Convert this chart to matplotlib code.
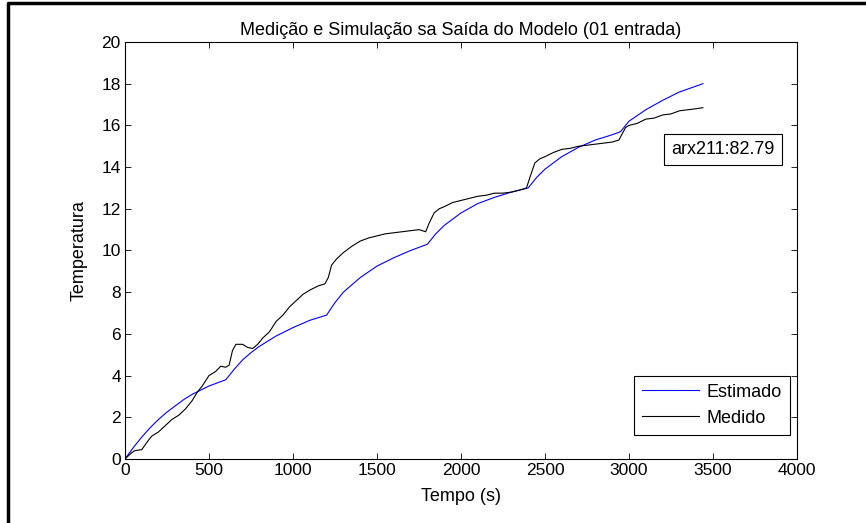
import matplotlib.pyplot as plt
from matplotlib.lines import Line2D

plt.rcParams['font.family'] = ['Liberation Sans', 'DejaVu Sans']

# modelo estimado (arx211)
t_est = [0, 50, 100, 150, 200, 250, 300, 350, 400, 450, 500, 550, 600,
         650, 700, 750, 800, 900, 1000, 1100, 1200,
         1250, 1300, 1400, 1500, 1600, 1700, 1800,
         1850, 1900, 2000, 2100, 2200, 2300, 2400,
         2450, 2500, 2600, 2700, 2800, 2900, 2950,
         3000, 3100, 3200, 3300, 3440]
y_est = [0, 0.55, 1.05, 1.5, 1.9, 2.25, 2.55, 2.85, 3.1, 3.3, 3.5, 3.65, 3.8,
         4.3, 4.75, 5.1, 5.4, 5.9, 6.3, 6.65, 6.9,
         7.5, 8.0, 8.7, 9.25, 9.65, 10.0, 10.3,
         10.8, 11.2, 11.8, 12.25, 12.55, 12.8, 13.0,
         13.5, 13.9, 14.5, 14.95, 15.3, 15.55, 15.7,
         16.2, 16.75, 17.2, 17.6, 18.0]

# temperatura medida
t_med = [0, 40, 60, 100, 140, 160, 200, 240, 280, 320, 360, 400, 430, 460,
         500, 540, 570, 600, 620, 640, 660, 700, 730, 760, 790, 820, 860,
         900, 940, 980, 1020, 1060, 1100, 1150, 1190, 1210, 1230, 1260,
         1300, 1350, 1400, 1450, 1500, 1550, 1600, 1650, 1700, 1750, 1790,
         1810, 1840, 1870, 1900, 1950, 2000, 2050, 2100, 2150, 2200, 2250,
         2300, 2350, 2390, 2410, 2440, 2470, 2500, 2550, 2600, 2650, 2700,
         2750, 2800, 2850, 2900, 2940, 2960, 2980, 3000, 3050, 3100, 3150,
         3200, 3250, 3300, 3350, 3400, 3440]
y_med = [0, 0.3, 0.4, 0.45, 0.9, 1.1, 1.3, 1.6, 1.9, 2.1, 2.4, 2.8, 3.2, 3.5,
         4.0, 4.2, 4.45, 4.4, 4.5, 5.2, 5.5, 5.5, 5.35, 5.3, 5.5, 5.8, 6.1,
         6.6, 6.9, 7.3, 7.6, 7.9, 8.1, 8.3, 8.4, 8.7, 9.3, 9.6,
         9.9, 10.2, 10.45, 10.6, 10.7, 10.8, 10.85, 10.9, 10.95, 11.0, 10.9,
         11.3, 11.8, 12.0, 12.1, 12.3, 12.4, 12.5, 12.6, 12.65, 12.75, 12.75,
         12.8, 12.9, 13.0, 13.5, 14.2, 14.4, 14.5, 14.7, 14.85, 14.9, 15.0,
         15.05, 15.1, 15.15, 15.2, 15.3, 15.6, 15.9, 16.0, 16.1, 16.3, 16.35,
         16.5, 16.55, 16.7, 16.75, 16.8, 16.85]

fig = plt.figure(figsize=(8.66, 5.23), dpi=100)
ax = fig.add_axes([0.1443, 0.1224, 0.7760, 0.7973])

ax.plot(t_est, y_est, color='#0000FF', lw=0.8, label='Estimado')
ax.plot(t_med, y_med, color='black', lw=0.8, label='Medido')

ax.set_xlim(0, 4000)
ax.set_ylim(0, 20)
ax.set_xticks(range(0, 4001, 500))
ax.set_yticks(range(0, 21, 2))
ax.tick_params(direction='in', top=True, right=True, labelsize=12.5, length=4, width=0.6, pad=3)
for s in ax.spines.values():
    s.set_linewidth(0.8)

ax.set_title('Medição e Simulação sa Saída do Modelo (01 entrada)', fontsize=13, pad=5)
ax.set_xlabel('Tempo (s)', fontsize=13, labelpad=7)
ax.set_ylabel('Temperatura', fontsize=13, labelpad=10)

ax.text(0.967, 0.742, 'arx211:82.79', transform=ax.transAxes, ha='right', va='center',
        fontsize=13, bbox=dict(boxstyle='square,pad=0.4', fc='white', ec='black', lw=0.8))

leg = ax.legend(loc='lower right', bbox_to_anchor=(0.989, 0.058), fontsize=13,
                fancybox=False, edgecolor='black', framealpha=1, handlelength=3.15,
                borderpad=0.45, labelspacing=0.5, borderaxespad=0, handletextpad=0.4)
leg.get_frame().set_linewidth(0.8)

# moldura da figura (topo e esquerda)
fig.add_artist(Line2D([8/866, 8/866, 1], [0, 1 - 3/523, 1 - 3/523],
                      transform=fig.transFigure, color='black', lw=2.5))

plt.savefig('out.png', dpi=100)
plt.close()
